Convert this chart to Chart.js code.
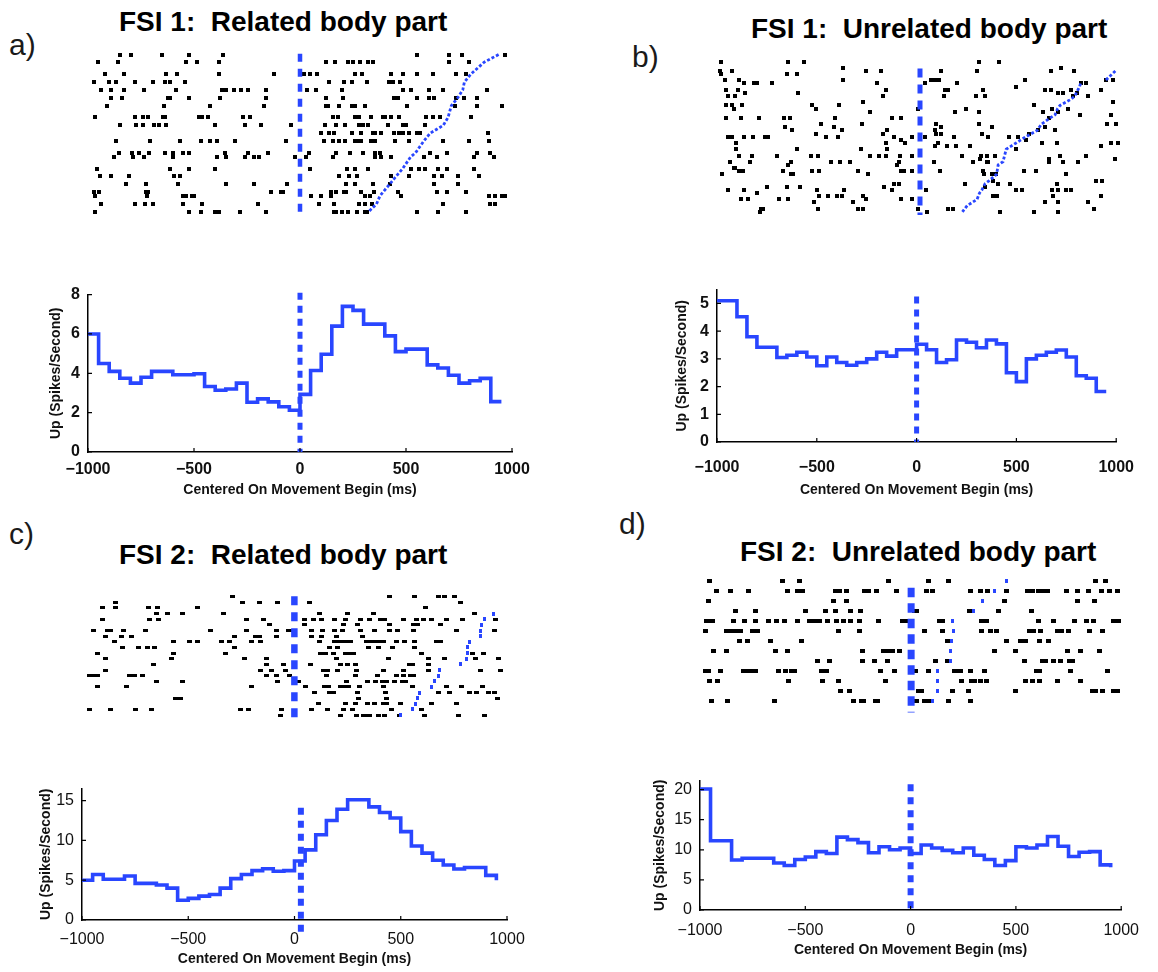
<!DOCTYPE html>
<html><head><meta charset="utf-8">
<script src="https://cdn.jsdelivr.net/npm/chart.js@4.4.1/dist/chart.umd.min.js"></script>
<style>
html,body{margin:0;padding:0;background:#fff;}
body{width:1158px;height:972px;position:relative;overflow:hidden;font-family:"Liberation Sans",Arial,sans-serif;}
canvas{position:absolute;}
.lbl{position:absolute;font-size:30px;line-height:30px;color:#1a1a1a;}
.ttl{position:absolute;font-size:28px;line-height:28px;font-weight:bold;color:#000;white-space:pre;}
</style></head><body>
<div class="lbl" style="left:9px;top:30px">a)</div>
<div class="ttl" style="left:119px;top:8px">FSI 1:  Related body part</div>
<div class="lbl" style="left:632px;top:42px">b)</div>
<div class="ttl" style="left:751px;top:15px">FSI 1:  Unrelated body part</div>
<div class="lbl" style="left:9px;top:519px">c)</div>
<div class="ttl" style="left:119px;top:541px">FSI 2:  Related body part</div>
<div class="lbl" style="left:619px;top:509px">d)</div>
<div class="ttl" style="left:740px;top:538px">FSI 2:  Unrelated body part</div>
<script>
// ---------------- DATA ----------------
const binStarts = [-1000,-950,-900,-850,-800,-750,-700,-650,-600,-550,-500,-450,-400,-350,-300,-250,-200,-150,-100,-50,0,50,100,150,200,250,300,350,400,450,500,550,600,650,700,750,800,850,900,950];
const xTickStep = 500;
const psthA = [6.0,4.5,4.1,3.75,3.5,3.8,4.1,4.1,3.93,3.93,3.98,3.33,3.14,3.2,3.5,2.53,2.7,2.55,2.3,2.12,2.93,4.14,4.97,6.4,7.4,7.2,6.5,6.5,5.9,5.1,5.23,5.23,4.43,4.27,3.9,3.5,3.62,3.74,2.56,2.56];
const psthB = [5.1,5.1,4.52,3.8,3.42,3.42,3.05,3.13,3.24,3.07,2.75,3.07,2.87,2.77,2.87,3.0,3.24,3.1,3.33,3.33,3.53,3.33,2.87,2.97,3.68,3.6,3.4,3.68,3.54,2.5,2.18,3.0,3.13,3.24,3.32,3.07,2.39,2.3,1.82,1.82];
const psthC = [5.0,5.72,5.12,5.12,5.52,4.6,4.6,4.4,4.0,2.48,2.72,3.0,3.2,4.0,5.2,5.72,6.2,6.44,6.12,6.2,7.4,8.8,10.7,12.5,13.9,15.1,15.1,14.2,13.5,12.8,11.1,9.3,8.4,7.5,6.9,6.4,6.6,6.6,5.6,5.0];
const psthD = [20.1,11.5,11.5,8.3,8.6,8.6,8.6,7.8,7.4,8.4,8.8,9.7,9.4,12.1,11.7,11.2,9.5,10.5,10.0,10.3,9.4,10.8,10.3,9.9,9.5,10.3,9.1,8.4,7.4,8.2,10.5,10.3,10.8,12.2,10.6,8.9,9.6,9.7,7.5,7.1];
const yMaxA = 8, yMaxB = 5.5, yMaxC = 16.5, yMaxD = 21.5;
const yStepA = 2, yStepB = 1, yStepC = 5, yStepD = 5;
const eventPsthA = [0, 0, 8.1], eventPsthB = [0, 0, 5.25], eventPsthC = [30, -1.9, 14.1], eventPsthD = [0, 0, 20.9];

const rasterATrials = [1,3,6,8,10,12,14,17,19,21,23,26,27,30,32,34,36,37,39,41];
const rasterASpikes = [
[-867,-816,-667,-537,-369,562,719,782,989],
[-973,-879,-550,-495,-389,126,170,232,254,290,330,353,719,813],
[-942,-848,-647,-593,-389,-126,19,50,82,264,298,440,495,562,641,754,801],
[-992,-923,-887,-798,-710,-652,-625,-553,138,212,251,322,427,447,484],
[-958,-911,-848,-754,-600,-377,-358,-317,-283,-251,-165,35,75,204,495,534,620,691,903],
[-914,-860,-636,-625,-537,-385,-165,126,207,455,471,562,620,644,754,793,856],
[-929,-656,-432,-176,126,133,188,251,264,314,518,746,856,973],
[-989,-798,-757,-735,-659,-652,-487,-471,-443,-275,-243,157,181,267,283,342,400,408,440,479,609,641,675,824],
[-867,-793,-757,-703,-678,-647,-408,-267,-188,-44,122,173,217,283,306,327,424,495,510,604],
[102,141,165,251,295,353,361,393,455,479,495,526,565,581,907],
[-887,-722,-581,-479,-432,-400,-314,-66,118,160,188,215,267,286,295,342,361,458,526,691,816,911],
[-871,-809,-777,-730,-652,-612,-565,-534,-361,-251,-154,44,173,243,306,361,385,628,707,856,918],
[-898,-804,-754,-612,-400,-358,-267,-220,-196,-24,31,160,361,393,440,597,659,840,934],
[-977,-625,-534,-411,47,228,267,330,534,573,604,667,707,840],
[-966,-914,-824,-609,-581,188,236,275,440,526,644,683,761,864],
[-840,-741,-589,-358,-220,-63,220,264,353,432,644,761],
[-995,-970,-741,-735,-141,-94,-82,149,173,212,220,295,358,471,659,707,801],
[-989,-738,-565,-550,-521,-510,55,102,149,314,338,487,911,939,973,989],
[-961,-798,-746,-707,-565,-471,-204,94,165,283,314,345,691,918,942],
[-989,-537,-479,-408,-393,-290,-165,165,176,204,232,275,314,322,562,667,801]
];
const moveEndA = [958,887,824,793,785,761,730,714,691,628,597,557,534,495,463,432,400,385,369,330];

const rasterBTrials = [0,2,3,4,6,7,8,9,10,11,13,14,15,16,17,18,20,21,22,23,24,25,26,27,28,30,31,32,33,34,35,36,38,39,40,41,42,43,44,45,47,48];
const rasterBSpikes = [
[-988,-656,-575,296,394],
[-384,701],
[-996,-935,-267,-194,105,284,653,766],
[-988,-664,-611],
[-972,-902,-384,57,73,97,523,928,961],
[-875,-826,-810,-734,-215,24,183,799,826],
[478],
[-967,-907,-170,122,138,313,624,653,753,899],
[-870,-608,689,713,782],
[-956,-923,-186,118,280,324,761,834],
[-284,961],
[-967,-935,-886,-535,-405,567],
[-928,-518,-11,227,656,737],
[-251,173,296,611,689],
[794,951],
[-967,-891,-799,-676,-648,-421,-141,-97,640],
[-494,-287,81,296,932,977],
[-672,-429,105,356,624],
[-637,-389,-162,73,588,672],
[-518,-186,81,105,308,543],
[-956,-935,-875,-831,-773,-757,-470,-410,-130,-41,24,170,340,442,486],
[-97,527],
[-915,-170,-73,89,608,680,948,983],
[73,134,178,248,899],
[-915,-611,-292,-162,478],
[-902,-838,-713,-543,-510,-251,-206,-170,-102,-41,207,303,332,373,697,826],
[300,640,972],
[-944,-847,-643,-442,-397,-348,-105,70,264,332,340,640,713,786],
[-656,-113],
[-928,-919],
[-902,-880,-680,-535,-502,-308,-97,-81,-41,102,313,518,575],
[-983,-643,-632,-259,316,356,377,729],
[365,875,907],
[-130,-105,222,389,446,680],
[-761,-664,-599,-178,324],
[-956,-875,-514,-377,-138,32,478,510,656,685,729,750],
[-810],
[-502,-458,-413,-389,-284,365,381,664,899],
[-891,-854,-701,-659,-267,-97,-41],
[-527,-332,624,689,834],
[-789,-782,-510,-308,-284,-8,141,162,867],
[-794,37,400,567,685]
];
const moveEndBTrials = [3,6,null,7,8,11,12,14,15,17,18,20,22,24,26,28,30,32,33,36,38,39,41,42,44,46,48];
const moveEndB = [972,923,null,799,794,770,753,697,685,672,648,604,583,527,478,429,421,413,389,381,345,324,308,296,284,235,211];

const rasterCTrials = [0,1,2,3,4,5,6,7,8,9,10,11,12,13,14,15,16,17,18,19,20,21];
const rasterCSpikes = [
[-298,458,581,694,722,772],
[-864,-251,-170,-79,74,801],
[-926,-864,-703,-659,-465,631],
[-664,-612,-539,-342,121,254,383,870],
[-926,-696,-656,-229,-151,50,94,132,195,246,320,361,414,435,524,587,623,663,733,812,969],
[-119,47,239,305,458,576,592,702],
[-967,-900,-884,-821,-716,-402,-229,-88,-28,-16,82,137,192,231,317,388,458,498,576,780,964],
[-911,-832,-785,-287,-188,-166,-88,82,132,204,330],
[-868,-581,-507,-465,-350,-311,-209,-162,121,192,207,223,239,254,270,349,364,380,396,411,427,490,529,581,686,702],
[-829,-750,-707,-672,-287,168,207,356,403,471,581],
[-951,-581,-330,126,152,188,246,270,286,612,859,911],
[-911,-593,-240,-135,204,455,647,722,874,984],
[-680,-135,-52,79,223,257,294,553,571,647],
[-911,-162,-110,-41,141,160,207,301,430,524,647,898,995],
[-986,-967,-947,-794,-769,-732,-135,-88,-25,157,294,399,490,524,560,576],
[-664,-539,-83,22,251,352,393,424,446,482,521,537],
[-947,-810,-209,53,144,163,223,246,262,314,430,571,733,807,906],
[97,168,188,305,440,694,749,843,879,937,964],
[-575,-550,309,446,977],
[116,246,294,352,388,427,446,513,663,780],
[-986,-884,-766,-688,-261,-220,-63,82,160,236,278,466,612],
[-68,220,298,333,349,364,404,435,506,628,791,917]
];
const moveEndCTrials = [3,4,5,6,7,8,9,10,11,12,13,14,15,16,17,18,19,20,21];
const moveEndC = [958,914,901,898,898,843,835,832,827,801,697,694,675,659,603,592,584,571,513];

const rasterDTrials = [0,1,2,3,4,5,6,7,8,9,10,11,12];
const rasterDSpikes = [
[-964,-618,-535,-106,84,178,885,931],
[-933,-867,-777,-593,-543,-519,-363,-343,-309,-223,-203,-168,-72,73,100,284,331,365,456,557,580,612,635,651,744,796,849,911,952,986],
[-972,-371,-309,448,796,877],
[-842,-743,-504,-410,-363,-290,-243,16,27,281,417,577],
[-980,-964,-949,-852,-800,-746,-683,-644,-605,-546,-488,-465,-437,-399,-359,-324,-290,-246,-156,-41,-25,136,151,339,359,612,682,783,838,874,970,994],
[-983,-886,-867,-842,-816,-761,-738,-348,-246,62,151,339,378,409,568,588,619,702,721,752,853,916],
[-824,-785,-675,-527,172,456,526,549,615,658],
[-945,-883,-649,-593,-231,-134,-114,-90,-56,401,499,749,811,900],
[-446,-390,-231,-176,-114,115,172,541,630,643,682,713,760,775],
[-987,-972,-914,-805,-785,-764,-743,-633,-602,-571,-558,-431,-418,-406,-145,-78,22,81,206,222,237,284,349,599,615,764,939],
[-967,-925,-587,-426,-348,-125,240,287,303,331,359,549,583,615,702,811],
[-340,-296,37,50,198,276,499,869,885,916,970,989],
[-956,-878,-652,-278,-239,-228,-172,-161,27,62,81,178,284]
];
const moveEndDTrials = [0,1,2,3,4,5,6,7,8,9,10,11,12];
const moveEndD = [456,401,343,300,198,203,193,190,190,128,125,128,100];

// ---------------- STYLE / LAYOUT ----------------
const BLUE = '#2946ff';
const FONT = '"Liberation Sans", Arial, sans-serif';
const fmt = v => (v < 0 ? '\u2212' + Math.abs(v) : String(v));

function tickMark(w, h, color) {
  const c = document.createElement('canvas');
  c.width = w; c.height = h;
  const g = c.getContext('2d');
  g.fillStyle = color; g.fillRect(0, 0, w, h);
  return c;
}

function mkCanvas(id, left, top, w, h) {
  const c = document.createElement('canvas');
  c.id = id; c.width = w; c.height = h;
  c.style.left = left + 'px'; c.style.top = top + 'px';
  c.style.width = w + 'px'; c.style.height = h + 'px';
  document.body.appendChild(c);
  return c;
}

// MATLAB-style inward tick marks, placed from the chart's own scales
const innerTicks = {
  id: 'innerTicks',
  afterDraw(chart) {
    const {ctx, scales: {x, y}, chartArea: a} = chart;
    ctx.save();
    ctx.strokeStyle = '#000'; ctx.lineWidth = 1.2;
    ctx.beginPath();
    x.ticks.forEach(t => { const px = x.getPixelForValue(t.value); ctx.moveTo(px, a.bottom); ctx.lineTo(px, a.bottom - 4); });
    y.ticks.forEach(t => { const py = y.getPixelForValue(t.value); ctx.moveTo(a.left, py); ctx.lineTo(a.left + 4, py); });
    ctx.stroke();
    ctx.restore();
  }
};

function raster(box, L) {
  const pts = [];
  L.spikes.forEach((row, i) => row.forEach(t => pts.push({x: t, y: L.trials[i]})));
  const blue = L.blueX.map((v, i) => (v === null ? {x: null, y: null} : {x: v, y: L.blueT[i]}));
  const blueDs = L.blueLine
    ? {data: blue, showLine: true, borderColor: BLUE, borderWidth: 2.8, borderDash: [3, 2], pointRadius: 0, spanGaps: false}
    : {data: blue, showLine: false, pointStyle: tickMark(3, 4, BLUE), pointRadius: 2};
  new Chart(mkCanvas(box.id, box.left, box.top, box.w, box.h), {
    type: 'scatter',
    data: {datasets: [
      {data: [{x: 0, y: L.ev[0]}, {x: 0, y: L.ev[1]}], showLine: true, borderColor: BLUE, borderWidth: box.dashW, borderDash: box.dash, borderCapStyle: 'butt', pointRadius: 0},
      blueDs,
      {data: pts, pointStyle: tickMark(box.mw, box.mh, '#000'), pointRadius: 2}
    ]},
    options: {
      responsive: false, animation: false, devicePixelRatio: 1,
      layout: {padding: 0},
      plugins: {legend: {display: false}, tooltip: {enabled: false}},
      scales: {
        x: {type: 'linear', min: L.xr[0], max: L.xr[1], display: false},
        y: {type: 'linear', min: L.yr[0], max: L.yr[1], reverse: true, display: false}
      }
    }
  });
}

function psth(box, vals, yMax, yStep, ev, tickBold) {
  new Chart(mkCanvas(box.id, box.left, box.top, box.w, box.h), {
    type: 'scatter',
    plugins: [innerTicks],
    data: {datasets: [
      {data: [{x: ev[0], y: ev[2]}, {x: ev[0], y: ev[1]}], showLine: true, borderColor: BLUE, borderWidth: box.dashW, borderDash: [7, 6], borderCapStyle: 'butt', pointRadius: 0, clip: false},
      {data: binStarts.map((b, i) => ({x: b, y: vals[i]})), showLine: true, stepped: 'before', borderColor: BLUE, borderWidth: 3.6, pointRadius: 0, borderJoinStyle: 'miter', clip: false}
    ]},
    options: {
      responsive: false, animation: false, devicePixelRatio: 1,
      layout: {padding: {top: box.padT, right: box.padR, left: 0, bottom: 0}},
      plugins: {legend: {display: false}, tooltip: {enabled: false}},
      scales: {
        x: {type: 'linear', min: -1000, max: 1000,
          afterFit: s => { s.height = box.xH; },
          grid: {display: false, drawTicks: false},
          border: {display: true, color: '#000', width: 1.5},
          ticks: {stepSize: xTickStep, padding: box.xPad, color: '#111', maxRotation: 0, autoSkip: false, callback: fmt,
                  font: {family: FONT, size: 16, weight: tickBold ? 'bold' : 'normal'}},
          title: {display: true, text: 'Centered On Movement Begin (ms)', color: '#111', padding: {top: 0, bottom: 0},
                  font: {family: FONT, size: 14, weight: 'bold'}}},
        y: {type: 'linear', min: 0, max: yMax,
          afterFit: s => { s.width = box.yW; },
          grid: {display: false, drawTicks: false},
          border: {display: true, color: '#000', width: 1.5},
          ticks: {stepSize: yStep, includeBounds: false, padding: 8, color: '#111', autoSkip: false,
                  font: {family: FONT, size: 16, weight: tickBold ? 'bold' : 'normal'}},
          title: {display: true, text: 'Up (Spikes/Second)', color: '#111', padding: {top: 0, bottom: 0},
                  font: {family: FONT, size: 14, weight: 'bold'}}}
      }
    }
  });
}

// Rasters
raster({id: 'ra', left: 80, top: 44, w: 440, h: 178, mw: 4, mh: 4, dashW: 4.5, dash: [8, 7]},
  {trials: rasterATrials, spikes: rasterASpikes, blueT: rasterATrials, blueX: moveEndA, blueLine: true,
   xr: [-1037, 1037], yr: [-0.4, 42.3], ev: [0.8, 41.8]});
raster({id: 'rb', left: 705, top: 55, w: 430, h: 165, mw: 4, mh: 4, dashW: 5, dash: [9, 7]},
  {trials: rasterBTrials, spikes: rasterBSpikes, blueT: moveEndBTrials, blueX: moveEndB, blueLine: true,
   xr: [-1045, 1045], yr: [-0.5, 49], ev: [2.2, 49]});
raster({id: 'rc', left: 75, top: 588, w: 445, h: 142, mw: 5, mh: 3, dashW: 6.5, dash: [9, 7]},
  {trials: rasterCTrials, spikes: rasterCSpikes, blueT: moveEndCTrials, blueX: moveEndC, blueLine: false,
   xr: [-1033, 1063], yr: [-0.66, 22.75], ev: [-0.1, 22.3]});
raster({id: 'rd', left: 695, top: 572, w: 440, h: 150, mw: 5, mh: 4, dashW: 7, dash: [9.5, 6]},
  {trials: rasterDTrials, spikes: rasterDSpikes, blueT: moveEndDTrials, blueX: moveEndD, blueLine: false,
   xr: [-1011, 1048], yr: [-0.37, 13.56], ev: [0.71, 13.1]});

// PSTHs
psth({id: 'pa', left: 48, top: 277, w: 492, h: 222, padT: 10, padR: 28, yW: 40, xH: 47, xPad: 8, dashW: 5}, psthA, yMaxA, yStepA, eventPsthA, true);
psth({id: 'pb', left: 674, top: 272, w: 476, h: 227, padT: 10, padR: 22, yW: 43, xH: 57, xPad: 16, dashW: 5}, psthB, yMaxB, yStepB, eventPsthB, true);
psth({id: 'pc', left: 38, top: 771, w: 497, h: 197, padT: 10, padR: 28, yW: 44, xH: 48, xPad: 10, dashW: 6}, psthC, yMaxC, yStepC, eventPsthC, false);
psth({id: 'pd', left: 652, top: 763, w: 498, h: 196, padT: 10, padR: 22, yW: 48, xH: 49, xPad: 11, dashW: 6}, psthD, yMaxD, yStepD, eventPsthD, false);
</script>
</body></html>
